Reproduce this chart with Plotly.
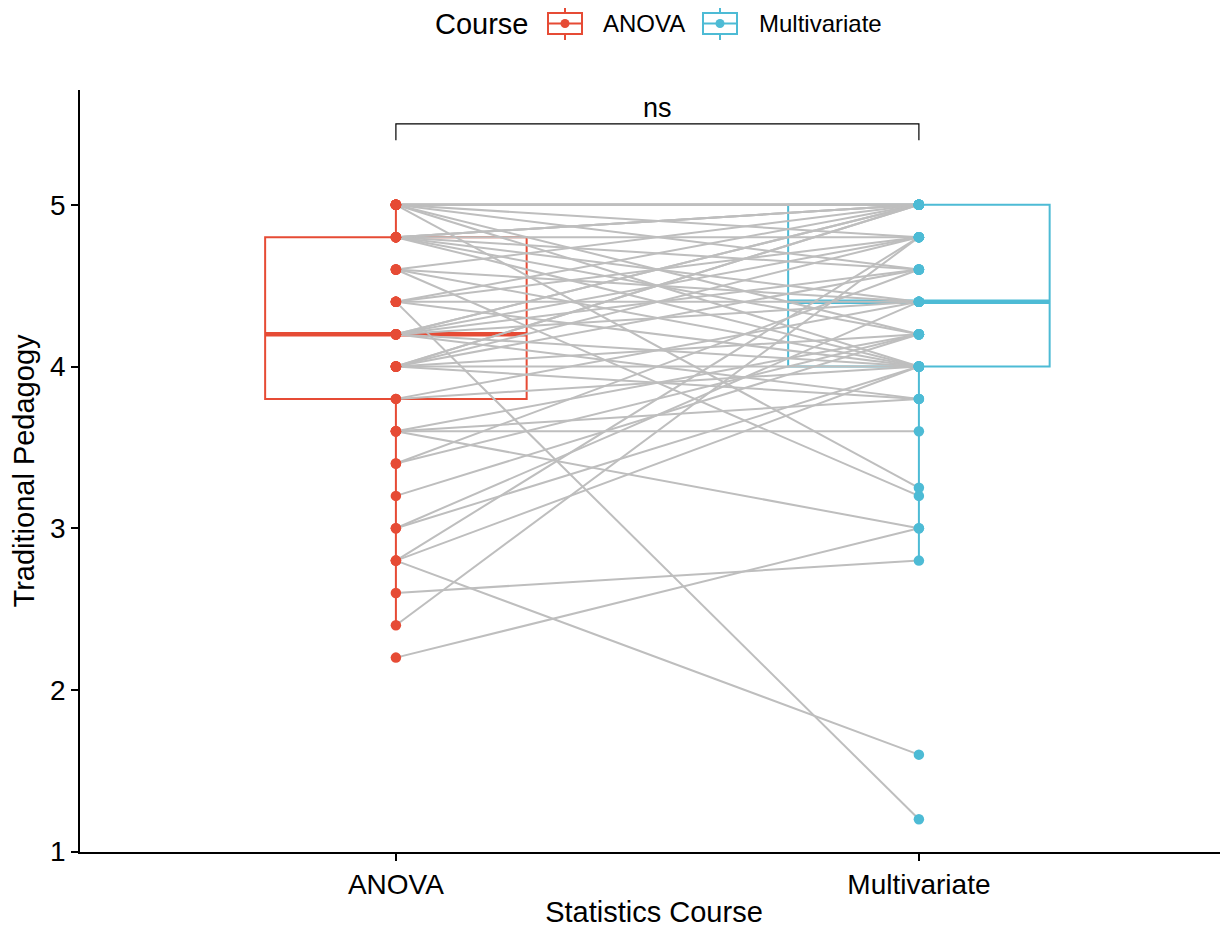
import numpy as np
import plotly.graph_objects as go

# ---------------- data (paired observations) ----------------
courses = ["ANOVA", "Multivariate"]
anova = [2.2, 2.4, 2.6,
         2.8, 2.8, 2.8,
         3.0, 3.0,
         3.2,
         3.4, 3.4,
         3.6, 3.6, 3.6, 3.6,
         3.8, 3.8,
         4.0, 4.0, 4.0, 4.0, 4.0, 4.0, 4.0,
         4.2, 4.2, 4.2, 4.2, 4.2, 4.2, 4.2,
         4.4, 4.4, 4.4, 4.4, 4.4,
         4.6, 4.6, 4.6, 4.6,
         4.8, 4.8, 4.8, 4.8, 4.8, 4.8, 4.8, 4.8,
         5.0, 5.0, 5.0, 5.0, 5.0, 5.0, 5.0, 5.0, 5.0, 5.0, 5.0, 5.0, 5.0]
multivariate = [3.0, 4.8, 2.8,
                1.6, 4.0, 4.8,
                4.4, 4.0,
                4.2,
                4.6, 4.2,
                3.6, 3.0, 3.8, 4.2,
                4.4, 4.0,
                3.8, 4.0, 4.8, 5.0, 4.6, 4.2, 5.0,
                4.0, 4.4, 5.0, 4.8, 4.6, 5.0, 3.8,
                1.2, 4.8, 5.0, 4.4, 4.0,
                3.2, 5.0, 4.0, 4.4,
                5.0, 4.8, 4.0, 4.2, 4.6, 5.0, 4.4, 5.0,
                3.25, 5.0, 5.0, 5.0, 5.0, 5.0, 5.0, 5.0, 5.0, 4.8, 4.6, 4.2, 4.0]
test_label = "ns"
y_ticks = [1, 2, 3, 4, 5]
legend_title = "Course"

colors = {"ANOVA": "#E64B35", "Multivariate": "#4DBBD5"}
FONT = "Liberation Sans, Arial, Helvetica, sans-serif"
BOX_W = 0.5

# figure geometry (page has an 8px body offset)
FIG_W, FIG_H = 1220, 923
M_L, M_T, M_B = 72, 82, 79
PLOT_W = FIG_W - M_L
PLOT_H = FIG_H - M_T - M_B
OFF = 8


def px(xp):  # page pixel -> paper x
    return (xp - OFF - M_L) / PLOT_W


def py(yp):  # page pixel -> paper y
    return (M_T + PLOT_H - (yp - OFF)) / PLOT_H


fig = go.Figure()

series = {"ANOVA": np.array(anova), "Multivariate": np.array(multivariate)}
xpos = {c: i + 1 for i, c in enumerate(courses)}

# ---------------- boxes ----------------
for c in courses:
    v = series[c]
    q1, med, q3 = np.percentile(v, [25, 50, 75])
    iqr = q3 - q1
    lo = v[v >= q1 - 1.5 * iqr].min()
    hi = v[v <= q3 + 1.5 * iqr].max()
    fig.add_trace(go.Box(
        x=[xpos[c]], q1=[q1], median=[med], q3=[q3],
        lowerfence=[lo], upperfence=[hi],
        width=BOX_W, whiskerwidth=0, boxpoints=False,
        line=dict(color=colors[c], width=2),
        fillcolor="rgba(255,255,255,0)",
        name=c, showlegend=False, hoverinfo="skip"))
    # thicker median as in ggplot
    fig.add_trace(go.Scatter(
        x=[xpos[c] - BOX_W / 2, xpos[c] + BOX_W / 2], y=[med, med],
        mode="lines", line=dict(color=colors[c], width=4.5),
        showlegend=False, hoverinfo="skip"))

# ---------------- paired lines ----------------
lx, ly = [], []
for a, m in zip(anova, multivariate):
    lx += [xpos["ANOVA"], xpos["Multivariate"], None]
    ly += [a, m, None]
fig.add_trace(go.Scatter(x=lx, y=ly, mode="lines",
                         line=dict(color="#BEBEBE", width=2),
                         showlegend=False, hoverinfo="skip"))

# ---------------- points ----------------
for c in courses:
    v = series[c]
    fig.add_trace(go.Scatter(x=[xpos[c]] * len(v), y=v, mode="markers",
                             marker=dict(color=colors[c], size=10.5),
                             name=c, showlegend=False))

# ---------------- significance bracket ----------------
br_top = 5.5
br_tip = 5.4
fig.add_trace(go.Scatter(
    x=[xpos["ANOVA"], xpos["ANOVA"], xpos["Multivariate"], xpos["Multivariate"]],
    y=[br_tip, br_top, br_top, br_tip], mode="lines",
    line=dict(color="black", width=1.2), showlegend=False, hoverinfo="skip"))
fig.add_annotation(x=(xpos["ANOVA"] + xpos["Multivariate"]) / 2, y=br_top,
                   text=test_label, showarrow=False, yanchor="bottom", yshift=-1,
                   font=dict(size=27, color="black", family=FONT))

# ---------------- legend (drawn manually, ggplot style) ----------------
fig.add_annotation(xref="paper", yref="paper", x=px(433), y=py(24),
                   xanchor="left", yanchor="middle", showarrow=False,
                   text=legend_title, font=dict(size=29, family=FONT, color="black"))
legend_items = [("ANOVA", 548, 601), ("Multivariate", 703, 757)]
for name, icon_x, text_x in legend_items:
    col = colors[name]
    cx = icon_x + 17
    fig.add_shape(type="line", xref="paper", yref="paper",
                  x0=px(cx), x1=px(cx), y0=py(6), y1=py(40),
                  line=dict(color=col, width=2))
    fig.add_shape(type="rect", xref="paper", yref="paper",
                  x0=px(icon_x), x1=px(icon_x + 34), y0=py(13), y1=py(34),
                  line=dict(color=col, width=2), fillcolor="white")
    fig.add_shape(type="line", xref="paper", yref="paper",
                  x0=px(icon_x), x1=px(icon_x + 34), y0=py(23.5), y1=py(23.5),
                  line=dict(color=col, width=2))
    fig.add_shape(type="circle", xref="paper", yref="paper",
                  x0=px(cx - 4.5), x1=px(cx + 4.5), y0=py(19), y1=py(28),
                  line=dict(color=col, width=0), fillcolor=col)
    fig.add_annotation(xref="paper", yref="paper", x=px(text_x), y=py(24),
                       xanchor="left", yanchor="middle", showarrow=False,
                       text=name, font=dict(size=24, family=FONT, color="black"))

axis_common = dict(showline=True, linecolor="black", linewidth=1.5,
                   ticks="outside", ticklen=7, tickwidth=1.5, tickcolor="black",
                   showgrid=False, zeroline=False,
                   tickfont=dict(size=28, color="black", family=FONT))

fig.update_layout(
    width=FIG_W, height=FIG_H,
    margin=dict(l=M_L, r=0, t=M_T, b=M_B),
    plot_bgcolor="white", paper_bgcolor="white",
    font=dict(family=FONT, color="black"),
    showlegend=False,
    xaxis=dict(range=[0.396, 2.591], tickvals=[xpos[c] for c in courses], ticktext=courses,
               title=dict(text="Statistics Course", font=dict(size=29, family=FONT), standoff=2),
               **axis_common),
    yaxis=dict(range=[0.998, 5.71], tickvals=y_ticks,
               title=dict(text="Traditional Pedagogy", font=dict(size=29, family=FONT), standoff=8),
               **axis_common),
)

fig.write_html("out.html")
